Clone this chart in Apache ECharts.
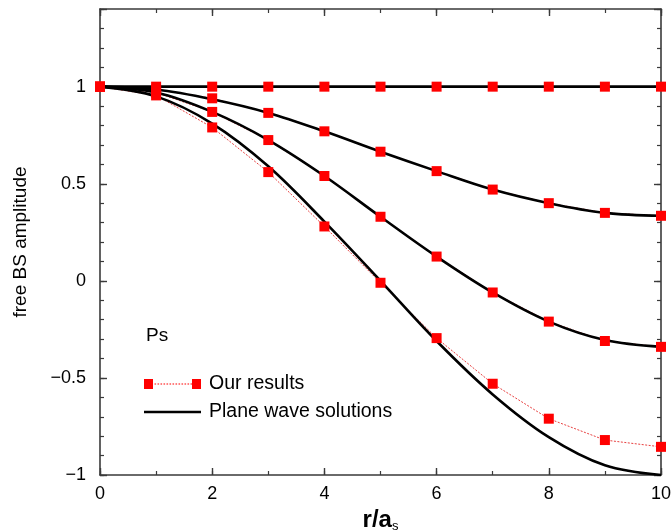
<!DOCTYPE html>
<html>
<head>
<meta charset="utf-8">
<script src="https://cdn.jsdelivr.net/npm/echarts@6/dist/echarts.min.js"></script>
<style>
  html, body { margin: 0; padding: 0; background: #fff; }
  #chart { width: 671px; height: 532px; }
</style>
</head>
<body>
<div id="chart"></div>
<script>
// Radial positions r/a_s
const radii = [0, 1, 2, 3, 4, 5, 6, 7, 8, 9, 10];

// Plane wave solutions (black curves)
const planeWaveA = [1, 1, 1, 1, 1, 1, 1, 1, 1, 1, 1];
const planeWaveB = [1, 0.985, 0.935, 0.865, 0.77, 0.665, 0.565, 0.47, 0.40, 0.35, 0.335];
const planeWaveC = [1, 0.97, 0.87, 0.725, 0.54, 0.33, 0.125, -0.06, -0.21, -0.305, -0.34];
const planeWaveD = [1, 0.95, 0.81, 0.59, 0.305, 0.0, -0.31, -0.585, -0.805, -0.95, -1.0];

// Our results (red squares)
const ourResultsA = [1, 1, 1, 1, 1, 1, 1, 1, 1, 1, 1];
const ourResultsB = [1, 0.985, 0.94, 0.865, 0.77, 0.665, 0.565, 0.47, 0.40, 0.35, 0.335];
const ourResultsC = [1, 0.97, 0.87, 0.725, 0.54, 0.33, 0.125, -0.06, -0.21, -0.31, -0.34];
const ourResultsD = [1, 0.955, 0.79, 0.56, 0.28, -0.01, -0.295, -0.53, -0.71, -0.82, -0.855];

// Axis tick labels
const yTickLabels = ['\u22121', '\u22120.5', '0', '0.5', '1'];
const xTickLabels = ['0', '2', '4', '6', '8', '10'];

const FONT = '"Liberation Sans", Helvetica, Arial, sans-serif';
const AXIS_COLOR = '#3a3a3a';
const RED = '#ff0000';

const pairs = (ys) => radii.map((r, i) => [r, ys[i]]);

const planeWaves = [planeWaveA, planeWaveB, planeWaveC, planeWaveD];
const ourResults = [ourResultsA, ourResultsB, ourResultsC, ourResultsD];

// Legend icon: square, dotted connector, square
function resultsIcon() {
  let d = 'path://M0,0h9v10h-9z M48,0h9v10h-9z';
  for (let x = 10.5; x < 47; x += 3) d += ' M' + x + ',4.5h1.6v1h-1.6z';
  return d;
}

const axisLine = { show: true, onZero: false, lineStyle: { color: AXIS_COLOR, width: 1.6 } };
const noLine = { show: false, onZero: false };
const majorTick = { show: true, inside: true, length: 7, lineStyle: { color: AXIS_COLOR, width: 1.4 } };
const minorTick = { show: true, inside: true, length: 4, lineStyle: { color: AXIS_COLOR, width: 1.2 } };

function yLabel(v) {
  const idx = Math.round((v + 1) / 0.5);
  if (Math.abs(v - (-1 + idx * 0.5)) > 1e-6 || idx > 4) return '';
  return yTickLabels[idx];
}
function xLabel(v) {
  const idx = Math.round(v / 2);
  if (Math.abs(v - idx * 2) > 1e-6) return '';
  return xTickLabels[idx] || '';
}

const xBase = { type: 'value', min: 0, max: 10, splitLine: { show: false } };
const yBase = { type: 'value', min: -1, max: 1.4, splitLine: { show: false } };

const series = [];
// dotted connectors of our results, drawn beneath the black curves
ourResults.forEach((ys) => {
  series.push({
    name: 'Our results',
    type: 'line',
    data: pairs(ys),
    symbol: 'none',
    showSymbol: false,
    itemStyle: { color: RED },
    lineStyle: { color: '#e84040', width: 1, type: [2, 1.5] },
    z: 1,
    silent: true
  });
});
planeWaves.forEach((ys) => {
  series.push({
    name: 'Plane wave solutions',
    type: 'line',
    data: pairs(ys),
    smooth: 0.35,
    showSymbol: false,
    symbol: 'none',
    itemStyle: { color: '#000' },
    lineStyle: { color: '#000', width: 2.6 },
    z: 2,
    silent: true
  });
});
// square markers of our results, on top
ourResults.forEach((ys) => {
  series.push({
    name: 'Our results',
    type: 'scatter',
    data: pairs(ys),
    symbol: 'rect',
    symbolSize: 10,
    itemStyle: { color: RED, opacity: 1 },
    z: 3,
    silent: true
  });
});

const chart = echarts.init(document.getElementById('chart'), null, { renderer: 'canvas' });
chart.setOption({
  animation: false,
  backgroundColor: '#fff',
  textStyle: { fontFamily: FONT },
  grid: { left: 100, right: 10, top: 9, bottom: 57, containLabel: false, outerBoundsMode: 'none' },
  title: {
    text: 'Ps',
    left: 146,
    top: 326,
    padding: 0,
    textStyle: { fontFamily: FONT, fontSize: 19, fontWeight: 'normal', color: '#000' }
  },
  legend: {
    orient: 'vertical',
    left: 144,
    top: 374,
    padding: 0,
    itemGap: 8,
    itemWidth: 57,
    itemHeight: 10,
    selectedMode: false,
    textStyle: { fontFamily: FONT, fontSize: 19.5, color: '#000', padding: [0, 0, 0, 3] },
    data: [
      { name: 'Our results', icon: resultsIcon(), itemStyle: { color: RED, opacity: 1 } },
      { name: 'Plane wave solutions', icon: 'path://M0,0h57v2.6h-57z' }
    ]
  },
  xAxis: [
    Object.assign({}, xBase, {
      position: 'bottom',
      interval: 2,
      name: '{r|r/a}{s|s}',
      nameLocation: 'middle',
      nameGap: 33,
      nameTextStyle: {
        rich: {
          r: { fontFamily: FONT, fontSize: 24, fontWeight: 'bold', color: '#000' },
          s: { fontFamily: FONT, fontSize: 13, color: '#000', verticalAlign: 'bottom', padding: [12, 0, 0, 0] }
        }
      },
      axisLine: axisLine,
      axisTick: majorTick,
      axisLabel: { show: true, margin: 10, fontFamily: FONT, fontSize: 18, color: '#000', formatter: xLabel }
    }),
    Object.assign({}, xBase, {
      position: 'bottom', interval: 1,
      axisLine: noLine, axisTick: minorTick, axisLabel: { show: false }
    }),
    Object.assign({}, xBase, {
      position: 'top', interval: 2,
      axisLine: axisLine, axisTick: majorTick, axisLabel: { show: false }
    }),
    Object.assign({}, xBase, {
      position: 'top', interval: 1,
      axisLine: noLine, axisTick: minorTick, axisLabel: { show: false }
    })
  ],
  yAxis: [
    Object.assign({}, yBase, {
      position: 'left',
      interval: 0.5,
      name: 'free BS amplitude',
      nameLocation: 'middle',
      nameGap: 70,
      nameTextStyle: { fontFamily: FONT, fontSize: 19, color: '#000' },
      axisLine: axisLine,
      axisTick: majorTick,
      axisLabel: { show: true, margin: 14, fontFamily: FONT, fontSize: 18, color: '#000', formatter: yLabel }
    }),
    Object.assign({}, yBase, {
      position: 'left', interval: 0.1,
      axisLine: noLine, axisTick: minorTick, axisLabel: { show: false }
    }),
    Object.assign({}, yBase, {
      position: 'right', interval: 0.5,
      axisLine: axisLine, axisTick: majorTick, axisLabel: { show: false }
    }),
    Object.assign({}, yBase, {
      position: 'right', interval: 0.1,
      axisLine: noLine, axisTick: minorTick, axisLabel: { show: false }
    })
  ],
  series: series
});
</script>
</body>
</html>
